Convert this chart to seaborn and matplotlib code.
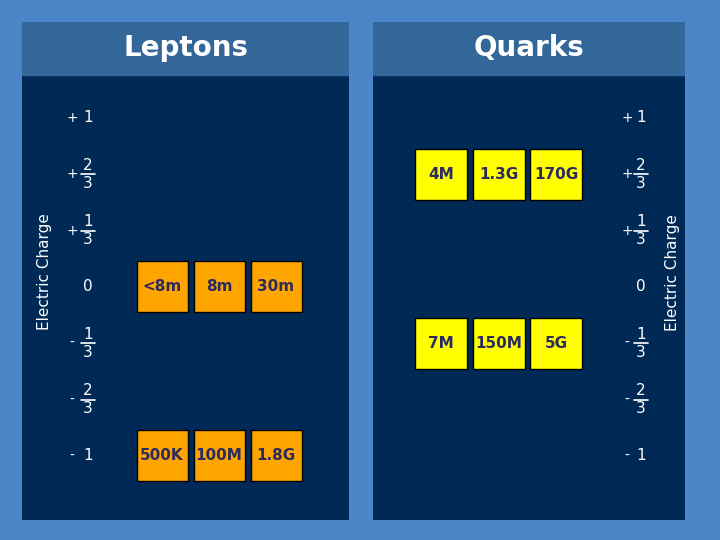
import matplotlib
matplotlib.use("Agg")
import matplotlib.pyplot as plt
import seaborn as sns

sns.set_style("white")
plt.rcParams["font.family"] = ["DejaVu Sans"]

# data
charges = [1, 2/3, 1/3, 0, -1/3, -2/3, -1]
charge_labels = [("+", "1"), ("+", "2/3"), ("+", "1/3"), ("", "0"), ("-", "1/3"), ("-", "2/3"), ("-", "1")]
lepton_charge = [0, 0, 0, -1, -1, -1]
lepton_mass = ["<8m", "8m", "30m", "500K", "100M", "1.8G"]
lepton_col = [0, 1, 2, 0, 1, 2]
quark_charge = [2/3, 2/3, 2/3, -1/3, -1/3, -1/3]
quark_mass = ["4M", "1.3G", "170G", "7M", "150M", "5G"]
quark_col = [0, 1, 2, 0, 1, 2]

BG = "#4a86c8"
PANEL = "#002a55"
HEAD = "#336699"
TXT = "#2b2b5e"
PX = 1 / 169.0  # charge units per pixel
YTOP = 1 + 96 * PX
YBOT = -1 - 64 * PX
YHEAD = 1 + 43 * PX

fig = plt.figure(figsize=(7.2, 5.4), dpi=100, facecolor=BG)


def panel(x0, x1, title):
    ax = fig.add_axes([x0 / 720, 1 - 520 / 540, (x1 - x0) / 720, 498 / 540])
    ax.set_facecolor(PANEL)
    ax.set_xlim(0, x1 - x0)
    ax.set_ylim(YBOT, YTOP)
    ax.axis("off")
    ax.add_patch(plt.Rectangle((0, YBOT), x1 - x0, YTOP - YBOT, color=PANEL, zorder=0))
    ax.axhspan(YHEAD, YTOP, color=HEAD, zorder=1)
    ax.text((x1 - x0) / 2, (YHEAD + YTOP) / 2, title, color="white", fontsize=20,
            fontweight="bold", ha="center", va="center")
    return ax


def charge_axis(ax, xs, xn):
    for c, (s, v) in zip(charges, charge_labels):
        ax.text(xs, c, s, color="white", fontsize=10, ha="center", va="center")
        if "/" in v:
            n, d = v.split("/")
            ax.text(xn, c + 9 * PX, n, color="white", fontsize=11, ha="center", va="center")
            ax.text(xn, c - 9 * PX, d, color="white", fontsize=11, ha="center", va="center")
            ax.plot([xn - 7, xn + 7], [c, c], color="white", lw=1.2)
        else:
            ax.text(xn, c, v, color="white", fontsize=11, ha="center", va="center")


def boxes(ax, cols, ch, labels, x0, step, w, color):
    xs = [x0 + step * k for k in cols]
    h = 51 * PX
    ax.bar(xs, [h] * len(xs), width=w, bottom=[c - h / 2 for c in ch],
           color=color, edgecolor="black", linewidth=1, zorder=3)
    for x, c, t in zip(xs, ch, labels):
        ax.text(x, c, t, color=TXT, fontsize=11, fontweight="bold",
                ha="center", va="center", zorder=4)


axL = panel(22, 349, "Leptons")
charge_axis(axL, 50, 66)
boxes(axL, lepton_col, lepton_charge, lepton_mass, 140, 57, 51, "#ffa500")

axR = panel(373, 685, "Quarks")
charge_axis(axR, 254, 268)
boxes(axR, quark_col, quark_charge, quark_mass, 68, 57.5, 52, "#ffff00")

fig.text(45 / 720, 1 - 272 / 540, "Electric Charge", color="white", fontsize=11,
         rotation=90, ha="center", va="center")
fig.text(673 / 720, 1 - 273 / 540, "Electric Charge", color="white", fontsize=11,
         rotation=90, ha="center", va="center")

fig.savefig("out.png", dpi=100, facecolor=BG)
